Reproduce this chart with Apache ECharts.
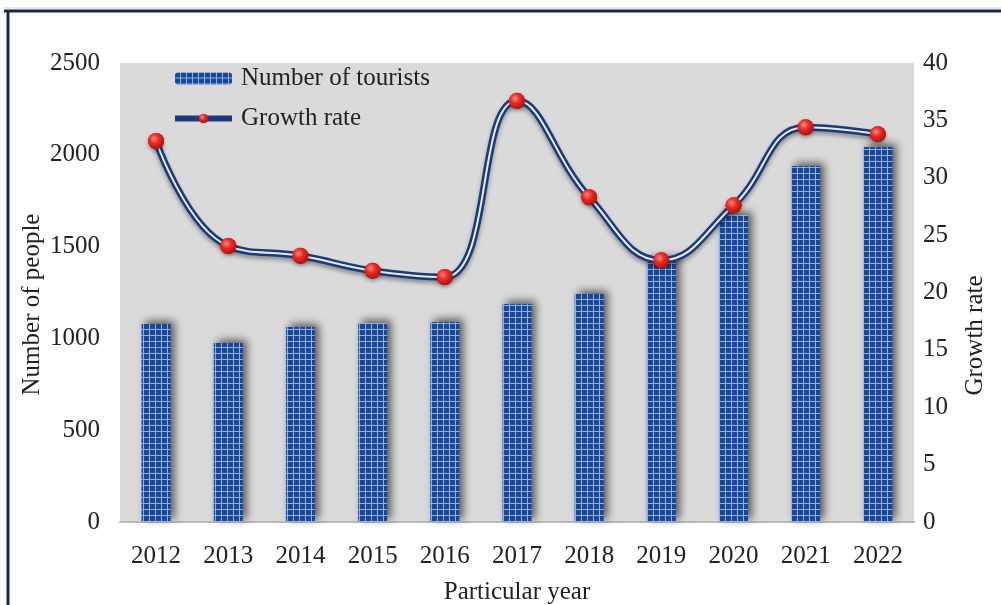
<!DOCTYPE html>
<html>
<head>
<meta charset="utf-8">
<script src="https://cdn.jsdelivr.net/npm/echarts@6/dist/echarts.min.js"></script>
<style>
html,body{margin:0;padding:0;background:#fff;}
#chart{width:1001px;height:605px;}
</style>
</head>
<body>
<div id="chart"></div>
<script>
var years = ['2012','2013','2014','2015','2016','2017','2018','2019','2020','2021','2022'];
var tourists = [1078, 975, 1062, 1084, 1089, 1187, 1242, 1427, 1672, 1939, 2042];
var growthRate = [33.2, 24.05, 23.2, 21.9, 21.35, 36.7, 28.3, 22.8, 27.6, 34.4, 33.8];
var leftTicks = {min: 0, max: 2500, interval: 500};
var rightTicks = {min: 0, max: 40, interval: 5};

// grid pattern for bars
var pc = document.createElement('canvas');
pc.width = 6; pc.height = 6;
var ctx = pc.getContext('2d');
ctx.fillStyle = '#1a4698';
ctx.fillRect(0, 0, 6, 6);
ctx.fillStyle = '#8fb0e4';
ctx.fillRect(5, 0, 1, 6);
ctx.fillRect(0, 5, 6, 1);

var font = 'Liberation Serif';
var fs = 25;
var markerColor = {
  type: 'radial', x: 0.38, y: 0.35, r: 0.65,
  colorStops: [{offset: 0, color: '#ff8a80'}, {offset: 0.45, color: '#ee2a22'}, {offset: 1, color: '#b3120e'}]
};
var plain = function (v) { return String(v); };

var chart = echarts.init(document.getElementById('chart'), null, {renderer: 'canvas'});
chart.setOption({
  backgroundColor: '#ffffff',
  textStyle: {fontFamily: font},
  grid: {left: 120, right: 87, top: 63, bottom: 83, show: true, backgroundColor: '#dadada', borderWidth: 0,
         containLabel: false, outerBoundsMode: 'none'},
  legend: {
    orient: 'vertical', left: 172, top: 66, padding: 0, itemGap: 15, itemWidth: 57, itemHeight: 12,
    data: ['Number of tourists', {name: 'Growth rate', lineStyle: {width: 6, color: '#1c3a7a'}}],
    textStyle: {fontFamily: font, fontSize: fs, color: '#222', padding: [0, 0, 0, 4]}
  },
  xAxis: {
    type: 'category', data: years,
    name: 'Particular year', nameLocation: 'middle', nameGap: 58, nameMoveOverlap: false,
    nameTextStyle: {fontFamily: font, fontSize: fs, color: '#222'},
    axisLine: {show: true, lineStyle: {color: '#b8b8b8', width: 2}},
    axisTick: {show: false},
    axisLabel: {fontFamily: font, fontSize: fs, color: '#222', margin: 22}
  },
  yAxis: [
    {
      type: 'value', min: leftTicks.min, max: leftTicks.max, interval: leftTicks.interval,
      name: 'Number of people', nameLocation: 'middle', nameGap: 75, nameRotate: 90, nameMoveOverlap: false,
      nameTextStyle: {fontFamily: font, fontSize: fs, color: '#222', padding: [0, 24, 0, 0]},
      axisLine: {show: false}, axisTick: {show: false}, splitLine: {show: false},
      axisLabel: {fontFamily: font, fontSize: fs, color: '#222', margin: 20, formatter: plain}
    },
    {
      type: 'value', min: rightTicks.min, max: rightTicks.max, interval: rightTicks.interval,
      name: 'Growth rate', nameLocation: 'middle', nameGap: 49, nameRotate: 90, nameMoveOverlap: false,
      nameTextStyle: {fontFamily: font, fontSize: fs, color: '#222', padding: [0, 86, 0, 0]},
      axisLine: {show: false}, axisTick: {show: false}, splitLine: {show: false},
      axisLabel: {fontFamily: font, fontSize: fs, color: '#222', margin: 9, formatter: plain}
    }
  ],
  series: [
    {
      name: 'Number of tourists', type: 'bar', data: tourists, barWidth: 29, yAxisIndex: 0,
      itemStyle: {
        color: {image: pc, repeat: 'repeat'},
        shadowColor: 'rgba(0,0,0,0.6)', shadowBlur: 9, shadowOffsetX: 4, shadowOffsetY: -3
      }
    },
    {
      name: 'Growth rate', type: 'line', data: growthRate, yAxisIndex: 1, smooth: 0.45,
      symbol: 'circle', symbolSize: 16, z: 3,
      itemStyle: {color: markerColor},
      lineStyle: {color: '#1c3a7a', width: 7, shadowColor: 'rgba(0,0,0,0.35)', shadowBlur: 4, shadowOffsetY: 3}
    },
    {
      name: 'Growth rate inner', type: 'line', data: growthRate, yAxisIndex: 1, smooth: 0.45,
      symbol: 'circle', symbolSize: 16, z: 4,
      itemStyle: {color: markerColor, shadowColor: 'rgba(0,0,0,0.35)', shadowBlur: 4, shadowOffsetY: 2},
      lineStyle: {color: '#e4ecf8', width: 2}
    }
  ],
  graphic: [
    {type: 'line', shape: {x1: 4, y1: 11, x2: 1001, y2: 11}, style: {stroke: '#1b2642', lineWidth: 3}},
    {type: 'line', shape: {x1: 4, y1: 8, x2: 1001, y2: 8}, style: {stroke: '#c9d6ea', lineWidth: 1}},
    {type: 'line', shape: {x1: 8, y1: 10, x2: 8, y2: 605}, style: {stroke: '#1b2642', lineWidth: 3}}
  ]
});
</script>
</body>
</html>
